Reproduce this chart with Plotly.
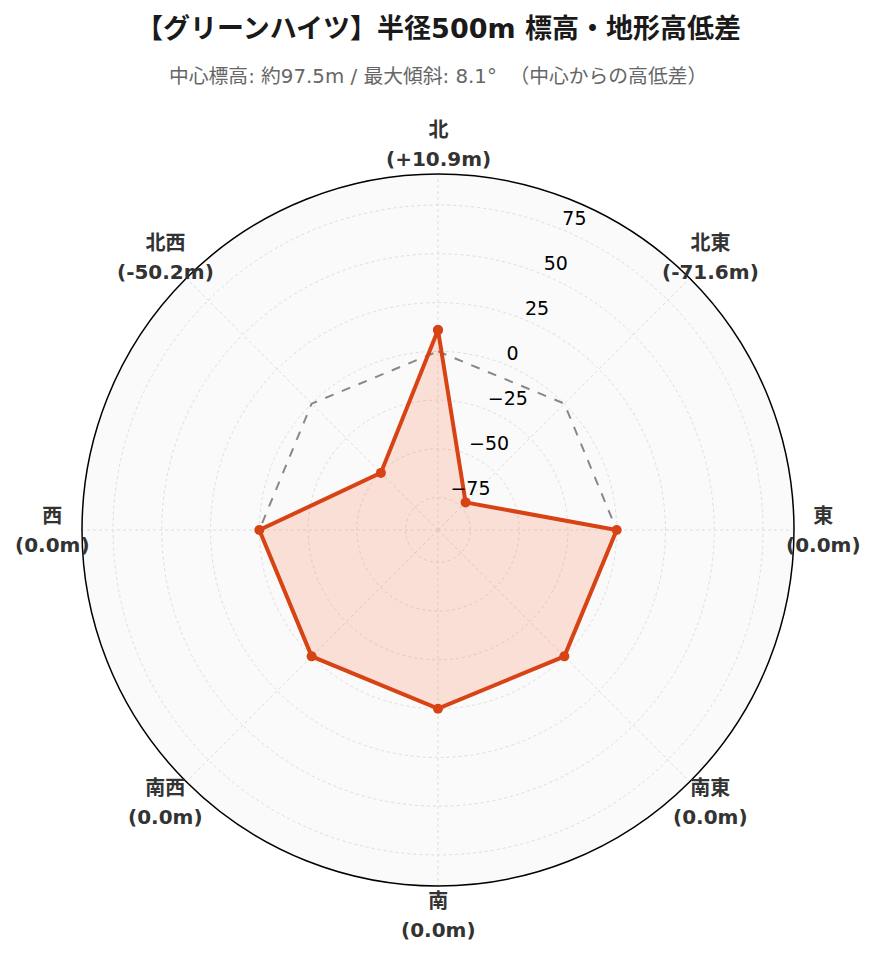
import math
import plotly.graph_objects as go

directions = ["北", "北東", "東", "南東", "南", "南西", "西", "北西"]
angles = [0, 45, 90, 135, 180, 225, 270, 315]
diffs = [10.9, -71.6, 0.0, 0.0, 0.0, 0.0, 0.0, -50.2]
baseline = [0.0] * 8
radial_ticks = [-75, -50, -25, 0, 25, 50, 75]
radial_range = [-91.6, 90.9]
label_r = 106.0          # radial value at which direction labels sit (outside the disc)
tick_label_theta = 22.5  # direction along which radial tick labels sit

title_text = "【グリーンハイツ】半径500m 標高・地形高低差"
subtitle_text = "中心標高: 約97.5m / 最大傾斜: 8.1°  （中心からの高低差）"

FONT = '"DejaVu Sans", "Noto Sans CJK JP", sans-serif'


def fmt(v):
    return ("+" if v > 0 else "") + f"{v:.1f}m"


dir_labels = [
    f'<span style="font-size:20px"><b>{d}<br>({fmt(v)})</b></span>'
    for d, v in zip(directions, diffs)
]
tick_labels = [str(t).replace("-", "\u2212") for t in radial_ticks]

theta_c = angles + [angles[0]]
r_c = diffs + [diffs[0]]
b_c = baseline + [baseline[0]]

fig = go.Figure()
fig.add_trace(go.Scatterpolar(
    r=b_c, theta=theta_c, mode="lines",
    line=dict(color="#888888", width=2, dash="dash"),
    hoverinfo="skip", showlegend=False,
))
fig.add_trace(go.Scatterpolar(
    r=r_c, theta=theta_c, mode="lines+markers",
    fill="toself", fillcolor="rgba(255,87,34,0.16)",
    line=dict(color="#D84315", width=4),
    marker=dict(color="#D84315", size=10),
    showlegend=False,
))
# radial tick labels
fig.add_trace(go.Scatterpolar(
    r=radial_ticks, theta=[tick_label_theta] * len(radial_ticks),
    mode="text", text=tick_labels, textposition="top right",
    textfont=dict(size=19, color="#000000", family=FONT),
    hoverinfo="skip", showlegend=False, cliponaxis=False,
))

W, H = 876, 962
L, T, D = 74, 166, 712
R = W - L - D
B = H - T - D

annotations = [
    dict(text=f"<b>{title_text}</b>", x=0.5, y=(H - B - 20) / D, xref="paper", yref="paper",
         yanchor="middle", showarrow=False,
         font=dict(size=27, color="#1a1a1a", family=FONT)),
    dict(text=subtitle_text, x=0.5, y=(H - B - 69) / D, xref="paper", yref="paper",
         yanchor="middle", showarrow=False,
         font=dict(size=19.8, color="#666666", family=FONT)),
]

# direction labels placed outside the disc via the polar radial scale
frac = (label_r - radial_range[0]) / (radial_range[1] - radial_range[0])  # of radius
for ang, txt in zip(angles, dir_labels):
    a = math.radians(ang)
    annotations.append(dict(
        text=txt, x=0.5 + 0.5 * frac * math.sin(a), y=0.5 + 0.5 * frac * math.cos(a),
        xref="paper", yref="paper", xanchor="center", yanchor="middle",
        showarrow=False, font=dict(size=22, color="#333333", family=FONT),
    ))

fig.update_layout(
    width=W, height=H,
    paper_bgcolor="white",
    margin=dict(l=L, r=R, t=T, b=B),
    font=dict(family=FONT, color="#000000"),
    polar=dict(
        bgcolor="#FAFAFA",
        angularaxis=dict(
            direction="clockwise", rotation=90, thetaunit="degrees",
            tickmode="array", tickvals=angles, showticklabels=False,
            showline=True, linecolor="#000000", linewidth=1.5,
            gridcolor="#DDDDDD", griddash="dot", gridwidth=1,
            ticks="",
        ),
        radialaxis=dict(
            range=radial_range, tickmode="array", tickvals=radial_ticks,
            showticklabels=False, showline=False, ticks="",
            gridcolor="#DDDDDD", griddash="dot", gridwidth=1,
        ),
    ),
    annotations=annotations,
)

fig.write_html("out.html")
